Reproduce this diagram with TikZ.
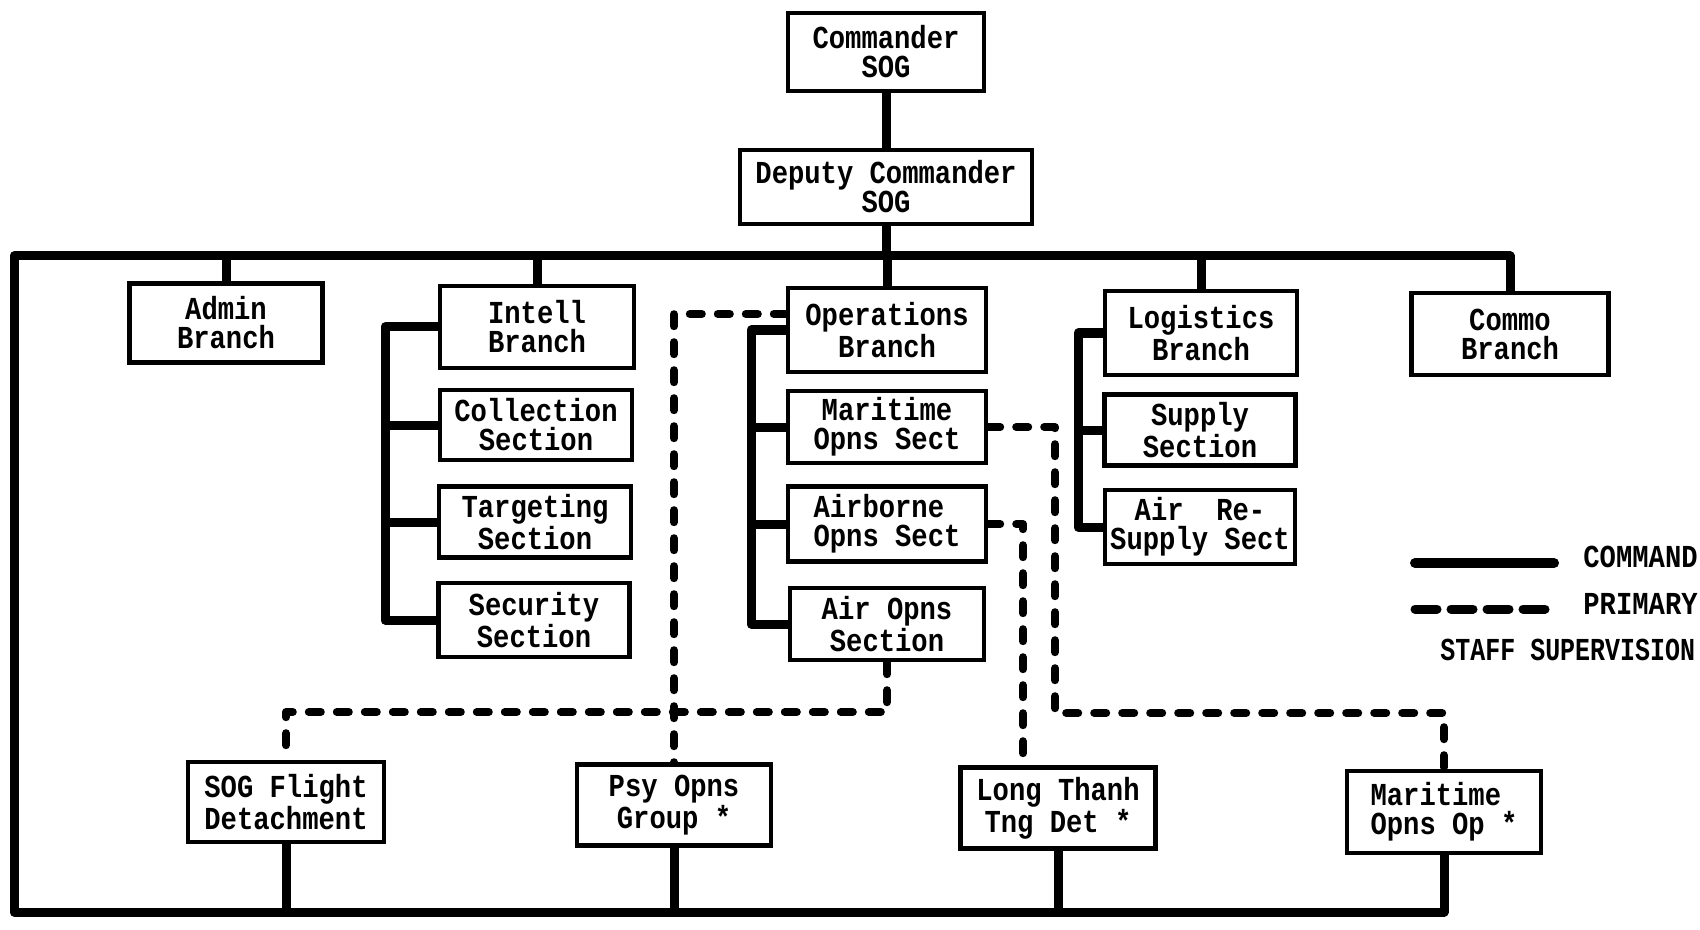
\documentclass[tikz,border=0pt]{standalone}
\usepackage{fontspec}
\newfontfamily\tw{Liberation Mono}[FakeStretch=0.85]
\newfontfamily\twn{Liberation Mono}[FakeStretch=0.78]
\usetikzlibrary{calc}
\begin{document}
\begin{tikzpicture}[x=0.5pt,y=-0.5pt,
  box/.style={draw, line width=2.2pt, inner sep=0pt, align=center,
    font=\tw\bfseries\fontsize{16}{14.5}\selectfont},
  sz/.style 2 args={minimum width=#1*0.5pt, minimum height=#2*0.5pt},
  cmd/.style={line width=4.5pt, line join=round},
  staff/.style={line width=4pt, line cap=round, line join=round, dash pattern=on 6pt off 8pt},
  lg/.style={font=\tw\bfseries\fontsize{16}{14.5}\selectfont, inner sep=0pt, anchor=west}]
\useasboundingbox (0,0) rectangle (1700,930);

% boxes
\node[box,sz={196}{78}] (cmdr) at (886,52) {Commander\\SOG};
\node[box,sz={292}{74}] (dep) at (886,187) {Deputy Commander\\SOG};
\node[box,sz={193}{79}] (admin) at (226,323) {Admin\\Branch};
\node[box,sz={194}{82}] (intell) at (537,327) {Intell\\Branch};
\node[box,sz={192}{70}] (coll) at (536,425) {Collection\\Section};
\node[box,sz={192}{71}] (targ) at (535,522) {Targeting\\Section};
\node[box,sz={191}{74}] (secu) at (534,620) {Security\\Section};
\node[box,sz={198}{84}] (ops) at (887,330) {Operations\\Branch};
\node[box,sz={198}{72}] (mos) at (887,427) {Maritime\\Opns Sect};
\node[box,sz={198}{75},align=left] (aos) at (887,524) {Airborne\\Opns Sect};
\node[box,sz={194}{72}] (airops) at (887,624) {Air Opns\\Section};
\node[box,sz={192}{84}] (log) at (1201,333) {Logistics\\Branch};
\node[box,sz={191}{71}] (sup) at (1200,430) {Supply\\Section};
\node[box,sz={190}{74}] (ars) at (1200,527) {Air~~Re-\\Supply Sect};
\node[box,sz={197}{82}] (commo) at (1510,334) {Commo\\Branch};
\node[box,sz={196}{80}] (sog) at (286,802) {SOG Flight\\Detachment};
\node[box,sz={194}{81}] (psy) at (674,805) {Psy Opns\\Group *};
\node[box,sz={195}{81}] (ltd) at (1058,808) {Long Thanh\\Tng Det *};
\node[box,sz={194}{82},align=left] (mog) at (1444,812) {Maritime\\Opns Op *};

% command lines
\coordinate (tl) at (14,256);
\coordinate (bl) at (14,912);
\draw[cmd] (cmdr.south) -- (dep.north);
\draw[cmd] (dep.south) -- (dep.south |- tl);
\foreach \n in {admin,intell,ops,log} \draw[cmd] (\n.north) -- (\n.north |- tl);
\draw[cmd] (commo.north) |- (tl) -- (bl) -| (mog.south);
\foreach \n in {sog,psy,ltd} \draw[cmd] (\n.south) -- (\n.south |- bl);

% brackets
\coordinate (ib) at (385,0);
\coordinate (ob) at (751,0);
\coordinate (lb) at (1078,0);
\draw[cmd] (intell.west) -| (ib |- secu.west) -- (secu.west);
\draw[cmd] (coll.west) -- (ib |- coll.west);
\draw[cmd] (targ.west) -- (ib |- targ.west);
\draw[cmd] (ops.west) -| (ob |- airops.west) -- (airops.west);
\draw[cmd] (mos.west) -- (ob |- mos.west);
\draw[cmd] (aos.west) -- (ob |- aos.west);
\draw[cmd] (log.west) -| (lb |- ars.west) -- (ars.west);
\draw[cmd] (sup.west) -- (lb |- sup.west);

% staff supervision
\coordinate (s1) at (676,314);
\coordinate (s2) at (0,712);
\coordinate (s3) at (1055,713);
\coordinate (s4) at (1023,0);
\draw[staff] (ops.west |- s1) -| (psy.north);
\draw[staff] (airops.south) -- (airops.south |- s2) -| (sog.north);
\draw[staff] (mos.east) -| (s3) -| (mog.north);
\draw[staff] (aos.east) -| (s4 |- ltd.north);

% legend
\coordinate (la) at (1415,563);
\coordinate (lb2) at (1554,563);
\coordinate (lc) at (1415,609);
\coordinate (ld) at (1554,609);
\draw[line width=5pt, line cap=round] (la) -- (lb2);
\draw[line width=4.5pt, line cap=round, dash pattern=on 11pt off 7pt] (lc) -- (ld);
\node[lg] (lcmd) at (1583,557) {COMMAND};
\node[lg] (lpri) at (1583,604) {PRIMARY};
\node[lg, font=\twn\bfseries\fontsize{16}{14.5}\selectfont] (lsta) at (1440,650) {STAFF SUPERVISION};
\end{tikzpicture}
\end{document}
